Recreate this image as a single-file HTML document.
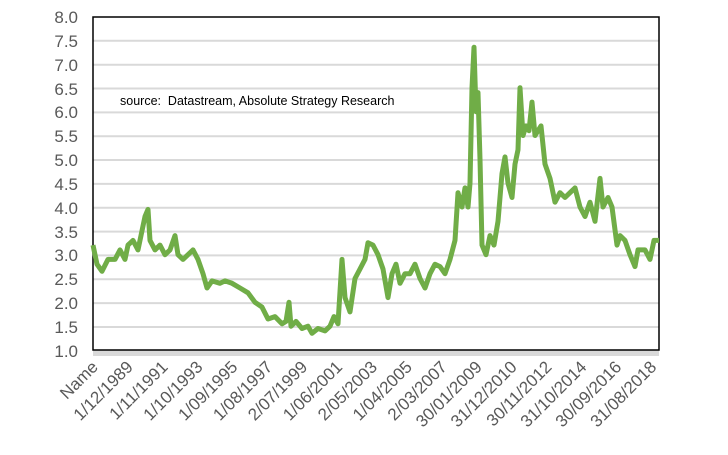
<!DOCTYPE html>
<html><head><meta charset="utf-8"><style>
body{margin:0;background:#fff}
svg text{font-family:"Liberation Sans",Arial,sans-serif;fill:#595959}
</style></head><body>
<svg width="728" height="450" xmlns="http://www.w3.org/2000/svg">
<g stroke="#d9d9d9" stroke-width="2">
<line x1="93" x2="659" y1="40.8" y2="40.8"/><line x1="93" x2="659" y1="64.7" y2="64.7"/>
<line x1="93" x2="659" y1="88.5" y2="88.5"/><line x1="93" x2="659" y1="112.4" y2="112.4"/>
<line x1="93" x2="659" y1="136.2" y2="136.2"/><line x1="93" x2="659" y1="160" y2="160"/>
<line x1="93" x2="659" y1="183.9" y2="183.9"/><line x1="93" x2="659" y1="207.8" y2="207.8"/>
<line x1="93" x2="659" y1="231.6" y2="231.6"/><line x1="93" x2="659" y1="255.4" y2="255.4"/>
<line x1="93" x2="659" y1="279.3" y2="279.3"/><line x1="93" x2="659" y1="303.1" y2="303.1"/>
<line x1="93" x2="659" y1="327" y2="327"/>
</g>
<rect x="93" y="350" width="566" height="6" fill="#d9d9d9"/>
<rect x="93" y="17" width="566" height="333" fill="none" stroke="#000" stroke-width="1.5"/>
<g font-size="17" text-anchor="end">
<text x="78" y="23">8.0</text><text x="78" y="47">7.5</text><text x="78" y="71">7.0</text>
<text x="78" y="95">6.5</text><text x="78" y="118">6.0</text><text x="78" y="142">5.5</text>
<text x="78" y="166">5.0</text><text x="78" y="190">4.5</text><text x="78" y="214">4.0</text>
<text x="78" y="238">3.5</text><text x="78" y="261">3.0</text><text x="78" y="285">2.5</text>
<text x="78" y="309">2.0</text><text x="78" y="333">1.5</text><text x="78" y="357">1.0</text>
</g>
<text x="120" y="105" font-size="12.5" style="fill:#000;white-space:pre" xml:space="preserve">source:  Datastream, Absolute Strategy Research</text>
<polyline fill="none" stroke="#70ad47" stroke-width="5" stroke-linejoin="round" points="93,245.1 97,264.2 102,271.3 108,259.4 115,259.4 120,249.9 125,259.4 128,245.1 133,240.4 138,249.9 142,230.8 145,216.5 148,209.4 150,240.4 155,249.9 160,245.1 165,254.7 170,249.9 175,235.6 178,254.7 183,259.4 188,254.7 193,249.9 198,259.4 203,273.7 207,288.0 212,280.9 220,283.3 225,280.9 232,283.3 240,288.0 248,292.8 255,302.3 262,307.1 268,319.0 275,316.6 282,323.8 286,321.4 289,302.3 291,326.2 296,321.4 302,328.5 308,326.2 312,333.3 318,328.5 325,330.9 330,326.2 334,316.6 338,323.8 342,259.4 345,297.6 350,311.9 355,278.5 360,269.0 365,259.4 368,242.7 373,245.1 378,254.7 383,269.0 388,297.6 392,273.7 396,264.2 400,283.3 405,273.7 410,273.7 415,264.2 420,278.5 425,288.0 430,273.7 435,264.2 440,266.6 445,273.7 450,259.4 455,240.4 458,192.7 462,207.0 465,187.9 468,207.0 470,183.2 472,87.8 474,47.3 476,111.7 478,92.6 480,159.3 482,245.1 486,254.7 490,235.6 494,245.1 498,221.3 502,173.6 505,156.9 508,183.2 512,197.5 515,164.1 518,149.8 520,87.8 523,135.5 526,125.9 529,130.7 532,102.1 535,135.5 538,130.7 541,125.9 545,164.1 550,178.4 555,202.2 560,192.7 565,197.5 570,192.7 575,187.9 580,207.0 585,216.5 590,202.2 595,221.3 600,178.4 603,207.0 608,197.5 612,207.0 617,245.1 620,235.6 625,240.4 630,254.7 635,266.6 638,249.9 645,249.9 650,259.4 654,240.4 659,240.4"/>
<g font-size="17" text-anchor="end">
<text transform="translate(99,368) rotate(-45)">Name</text>
<text transform="translate(133.9,368) rotate(-45)">1/12/1989</text>
<text transform="translate(168.8,368) rotate(-45)">1/11/1991</text>
<text transform="translate(203.7,368) rotate(-45)">1/10/1993</text>
<text transform="translate(238.6,368) rotate(-45)">1/09/1995</text>
<text transform="translate(273.5,368) rotate(-45)">1/08/1997</text>
<text transform="translate(308.4,368) rotate(-45)">2/07/1999</text>
<text transform="translate(343.3,368) rotate(-45)">1/06/2001</text>
<text transform="translate(378.2,368) rotate(-45)">2/05/2003</text>
<text transform="translate(413.1,368) rotate(-45)">1/04/2005</text>
<text transform="translate(448,368) rotate(-45)">2/03/2007</text>
<text transform="translate(482.9,368) rotate(-45)">30/01/2009</text>
<text transform="translate(517.8,368) rotate(-45)">31/12/2010</text>
<text transform="translate(552.7,368) rotate(-45)">30/11/2012</text>
<text transform="translate(587.6,368) rotate(-45)">31/10/2014</text>
<text transform="translate(622.5,368) rotate(-45)">30/09/2016</text>
<text transform="translate(657.4,368) rotate(-45)">31/08/2018</text>
</g>
</svg>
</body></html>
